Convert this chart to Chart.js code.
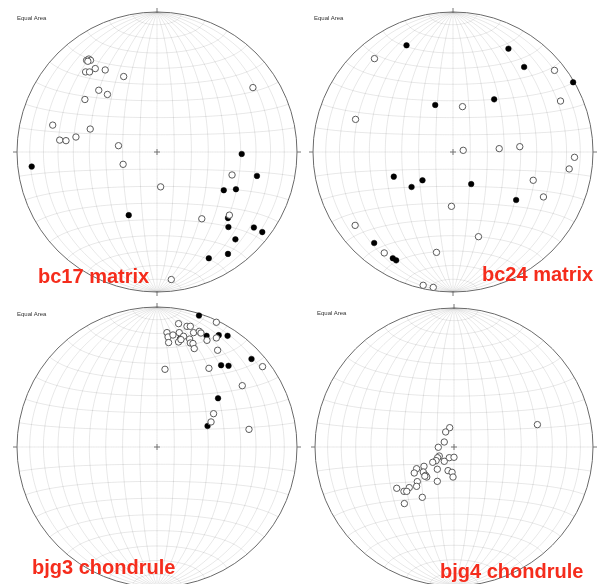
<!DOCTYPE html>
<html>
<head>
<meta charset="utf-8">
<script src="https://cdn.jsdelivr.net/npm/chart.js@4.4.1/dist/chart.umd.min.js"></script>
<style>
  html, body { margin: 0; padding: 0; background: #fff; overflow: hidden; }
  body { width: 600px; height: 584px; position: relative; font-family: "Liberation Sans", Arial, sans-serif; }
  .panel { position: absolute; }
  .tag { position: absolute; font-size: 6px; line-height: 6px; color: #333; white-space: nowrap; }
  .name { position: absolute; font-weight: bold; font-size: 20px; line-height: 20px; color: #f52c1c; white-space: nowrap; z-index: 2; }
</style>
</head>
<body>
<script>
// sample names
const panelNames = ['bc17 matrix', 'bc24 matrix', 'bjg3 chondrule', 'bjg4 chondrule'];

// projected positions on the net, [x, y] with the primitive circle = 1
const bc17Open = [[-0.503, 0.655], [-0.487, 0.664], [-0.475, 0.655], [-0.494, 0.648], [-0.510, 0.572],
  [-0.482, 0.572], [-0.441, 0.596], [-0.370, 0.586], [-0.238, 0.539], [0.685, 0.460], [-0.416, 0.441],
  [-0.354, 0.411], [-0.515, 0.375], [-0.745, 0.192], [-0.477, 0.164], [-0.695, 0.085], [-0.650, 0.081],
  [-0.579, 0.107], [-0.275, 0.045], [-0.242, -0.088], [0.026, -0.249], [0.536, -0.164], [0.517, -0.451],
  [0.320, -0.477], [0.102, -0.911]];
const bc17Filled = [[0.605, -0.014], [-0.895, -0.104], [0.714, -0.171], [0.477, -0.273], [0.564, -0.266],
  [-0.202, -0.451], [0.507, -0.472], [0.510, -0.536], [0.692, -0.539], [0.752, -0.572], [0.560, -0.624],
  [0.507, -0.728], [0.370, -0.759]];

const bc24Open = [[-0.561, 0.667], [0.725, 0.583], [0.768, 0.364], [0.068, 0.324], [-0.696, 0.233],
  [0.073, 0.012], [0.330, 0.024], [0.477, 0.038], [0.868, -0.038], [0.830, -0.121], [0.573, -0.202],
  [0.646, -0.321], [-0.011, -0.388], [-0.699, -0.524], [0.182, -0.605], [-0.491, -0.721], [-0.118, -0.717],
  [-0.213, -0.952], [-0.141, -0.967]];
const bc24Filled = [[-0.332, 0.762], [0.396, 0.738], [0.508, 0.607], [0.858, 0.498], [0.294, 0.376],
  [-0.127, 0.336], [-0.423, -0.176], [-0.218, -0.202], [-0.296, -0.250], [0.130, -0.229], [0.451, -0.343],
  [-0.563, -0.650], [-0.430, -0.759], [-0.406, -0.774]];

const bjg3Open = [[0.424, 0.891], [0.154, 0.881], [0.214, 0.862], [0.238, 0.862], [0.071, 0.817],
  [0.159, 0.817], [0.261, 0.817], [0.302, 0.826], [0.314, 0.814], [0.079, 0.786], [0.114, 0.800],
  [0.190, 0.791], [0.233, 0.771], [0.357, 0.762], [0.424, 0.779], [0.083, 0.746], [0.154, 0.750],
  [0.238, 0.743], [0.257, 0.739], [0.171, 0.767], [0.266, 0.703], [0.433, 0.691], [0.371, 0.562],
  [0.057, 0.555], [0.754, 0.574], [0.609, 0.438], [0.404, 0.238], [0.386, 0.179], [0.657, 0.126]];
const bjg3Filled = [[0.300, 0.939], [0.354, 0.794], [0.441, 0.799], [0.504, 0.794], [0.675, 0.629],
  [0.458, 0.584], [0.511, 0.580], [0.436, 0.348], [0.361, 0.150], [0.165, 0.773]];

const bjg4Open = [[0.600, 0.161], [-0.031, 0.139], [-0.060, 0.108], [-0.070, 0.036], [-0.113, -0.002],
  [-0.106, -0.065], [-0.118, -0.077], [-0.034, -0.077], [0.000, -0.074], [-0.070, -0.103], [-0.129, -0.098],
  [-0.153, -0.110], [-0.120, -0.160], [-0.043, -0.170], [-0.014, -0.182], [-0.007, -0.216], [-0.216, -0.139],
  [-0.269, -0.156], [-0.286, -0.187], [-0.221, -0.180], [-0.204, -0.204], [-0.196, -0.216], [-0.210, -0.210],
  [-0.120, -0.247], [-0.264, -0.249], [-0.269, -0.283], [-0.322, -0.292], [-0.412, -0.297], [-0.360, -0.319],
  [-0.340, -0.319], [-0.228, -0.362], [-0.357, -0.407]];
const bjg4Filled = [];

const openSets = [bc17Open, bc24Open, bjg3Open, bjg4Open];
const filledSets = [bc17Filled, bc24Filled, bjg3Filled, bjg4Filled];

// where each net sits on the page: centre x, centre y, radius
const layout = [
  { cx: 156.7, cy: 152, r: 140, tag: [17, 15], name: [38, 266] },
  { cx: 452.5, cy: 152, r: 140, tag: [314, 15], name: [482, 264] },
  { cx: 156.7, cy: 447, r: 140, tag: [17, 311], name: [32, 557] },
  { cx: 454, cy: 447, r: 139, tag: [317, 310], name: [440, 561] }
];
const pad = 8;

// Schmidt (equal area) net drawn behind the points
const netPlugin = {
  id: 'schmidtNet',
  beforeDatasetsDraw(chart) {
    const { ctx, scales: { x, y } } = chart;
    const rad = Math.PI / 180;
    const proj = (a, b, c) => {
      const k = 1 / Math.sqrt(1 + c);
      return [x.getPixelForValue(a * k), y.getPixelForValue(b * k)];
    };
    const pt = (lam, phi) => proj(Math.cos(phi * rad) * Math.sin(lam * rad), Math.sin(phi * rad), Math.cos(phi * rad) * Math.cos(lam * rad));

    ctx.save();
    ctx.strokeStyle = 'rgba(0,0,0,0.12)';
    ctx.lineWidth = 0.8;
    // great circles through N and S
    for (let lam = -80; lam <= 80; lam += 10) {
      ctx.beginPath();
      for (let phi = -90; phi <= 90; phi += 1) {
        const [u, v] = pt(lam, phi);
        if (phi === -90) ctx.moveTo(u, v); else ctx.lineTo(u, v);
      }
      ctx.stroke();
    }
    // small circles
    for (let phi = -80; phi <= 80; phi += 10) {
      ctx.beginPath();
      for (let lam = -90; lam <= 90; lam += 1) {
        const [u, v] = pt(lam, phi);
        if (lam === -90) ctx.moveTo(u, v); else ctx.lineTo(u, v);
      }
      ctx.stroke();
    }

    const cx = x.getPixelForValue(0), cy = y.getPixelForValue(0);
    const R = x.getPixelForValue(1) - cx;
    ctx.strokeStyle = '#6a6a6a';
    ctx.lineWidth = 1;
    ctx.beginPath();
    ctx.arc(cx, cy, R, 0, Math.PI * 2);
    ctx.stroke();

    // ticks at N, E, S, W and the centre cross
    ctx.strokeStyle = '#777';
    ctx.beginPath();
    ctx.moveTo(cx - R - 4, cy); ctx.lineTo(cx - R, cy);
    ctx.moveTo(cx + R, cy); ctx.lineTo(cx + R + 4, cy);
    ctx.moveTo(cx, cy - R - 4); ctx.lineTo(cx, cy - R);
    ctx.moveTo(cx, cy + R); ctx.lineTo(cx, cy + R + 4);
    ctx.moveTo(cx - 3, cy); ctx.lineTo(cx + 3, cy);
    ctx.moveTo(cx, cy - 3); ctx.lineTo(cx, cy + 3);
    ctx.stroke();
    ctx.restore();
  }
};

const toPts = list => list.map(p => ({ x: p[0], y: p[1] }));

layout.forEach((pos, i) => {
  const box = document.createElement('div');
  box.className = 'panel';
  const size = 2 * pos.r + 2 * pad;
  box.style.left = (pos.cx - pos.r - pad) + 'px';
  box.style.top = (pos.cy - pos.r - pad) + 'px';
  box.style.width = size + 'px';
  box.style.height = size + 'px';
  const canvas = document.createElement('canvas');
  box.appendChild(canvas);
  document.body.appendChild(box);

  const tag = document.createElement('div');
  tag.className = 'tag';
  tag.style.left = pos.tag[0] + 'px';
  tag.style.top = pos.tag[1] + 'px';
  tag.innerText = 'Equal Area';
  document.body.appendChild(tag);

  const name = document.createElement('div');
  name.className = 'name';
  name.style.left = pos.name[0] + 'px';
  name.style.top = pos.name[1] + 'px';
  name.innerText = panelNames[i];
  document.body.appendChild(name);

  new Chart(canvas, {
    type: 'scatter',
    data: {
      datasets: [
        {
          label: 'open',
          data: toPts(openSets[i]),
          pointRadius: 3.2,
          borderWidth: 1,
          borderColor: '#5a5a5a',
          backgroundColor: '#fff',
          clip: false
        },
        {
          label: 'filled',
          data: toPts(filledSets[i]),
          pointRadius: 2.8,
          borderWidth: 0.5,
          borderColor: '#000',
          backgroundColor: '#000',
          clip: false
        }
      ]
    },
    options: {
      responsive: true,
      maintainAspectRatio: false,
      animation: false,
      layout: { padding: pad },
      scales: {
        x: { type: 'linear', min: -1, max: 1, display: false },
        y: { type: 'linear', min: -1, max: 1, display: false }
      },
      plugins: {
        legend: { display: false },
        tooltip: { enabled: false }
      }
    },
    plugins: [netPlugin]
  });
});
</script>
</body>
</html>
